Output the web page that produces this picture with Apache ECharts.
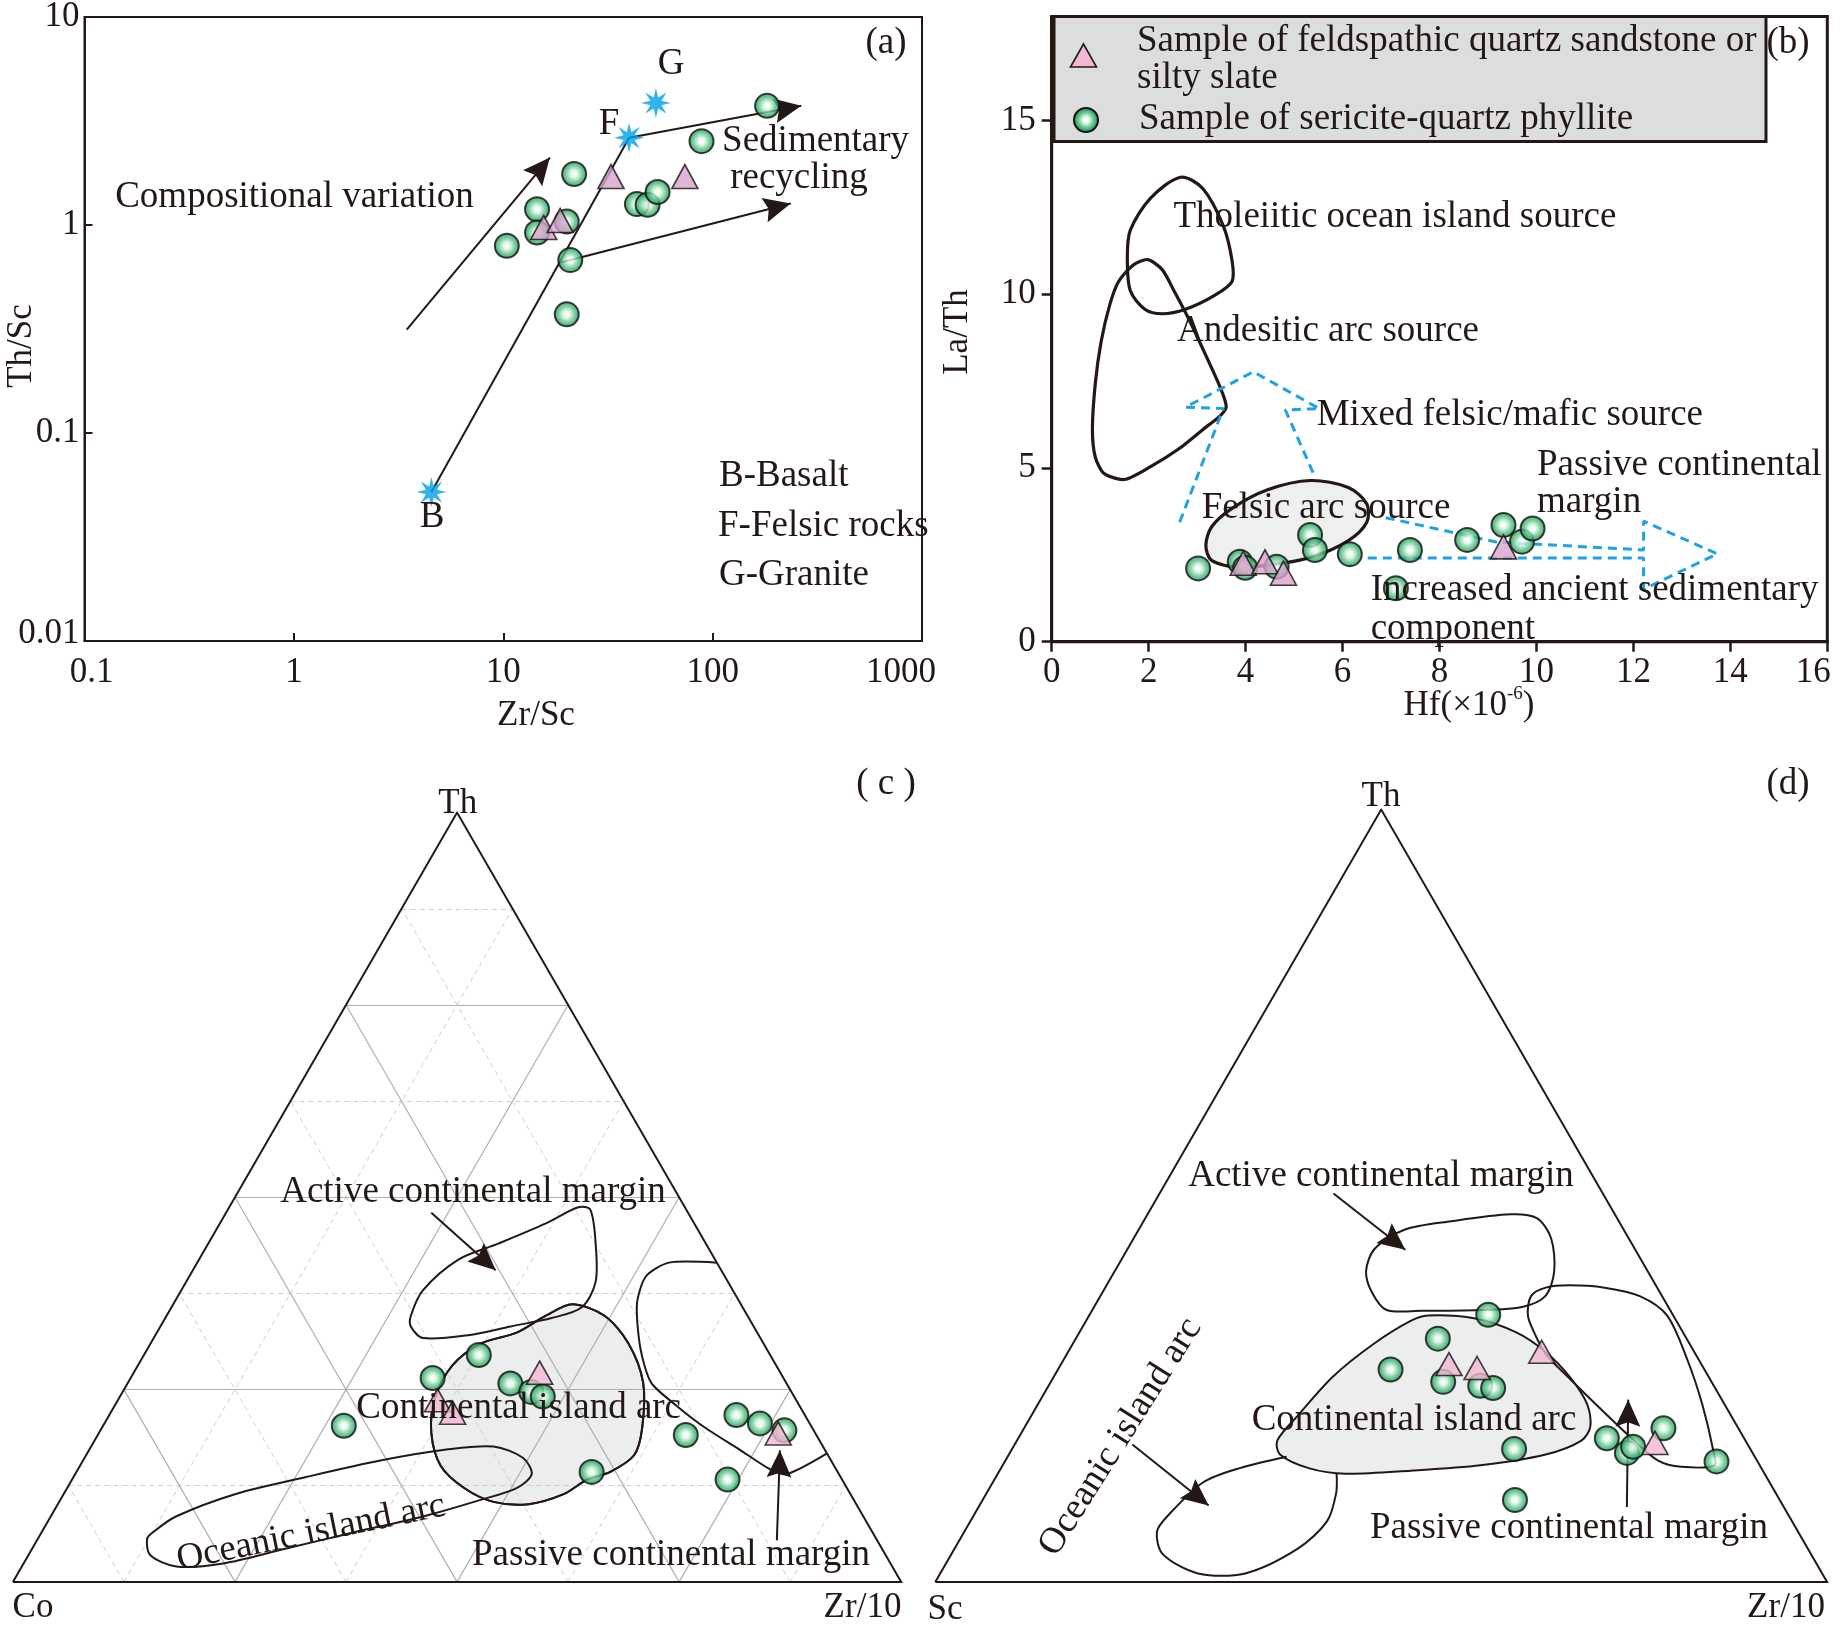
<!DOCTYPE html>
<html><head><meta charset="utf-8">
<script src="https://cdn.jsdelivr.net/npm/echarts@6/dist/echarts.min.js"></script>
<style>html,body{margin:0;padding:0;background:#fff}#c{width:1840px;height:1630px}</style>
</head><body><div id="c"></div>
<script>
// ---------------- Panel (a): Th/Sc vs Zr/Sc (log-log) ----------------
const aXTicks = [0.1, 1, 10, 100, 1000];
const aXLabels = ['0.1', '1', '10', '100', '1000'];
const aYTicks = [0.01, 0.1, 1, 10];
const aYLabels = ['0.01', '0.1', '1', '10'];
const aCircles = [[182,3.74],[88.5,2.53],[21.8,1.76],[14.5,1.19],[14.5,0.92],[10.4,0.794],[20.1,1.04],[20.9,0.678],[20.1,0.372],[43.5,1.26],[48.9,1.25],[54.6,1.44]];
const aTriangles = [[32.7,1.71],[73.7,1.71],[15.6,0.973],[18.7,1.05]];
const aStars = [[4.54,0.052],[39.9,2.63],[53.6,3.86]]; // B, F, G
const aArrows = [[[3.46,0.314],[16.7,2.11]], [[39.9,2.63],[265,3.74]], [[18.8,0.66],[236,1.27]]];
const aTrend = [[[4.54,0.052],[39.9,2.63]]];

// ---------------- Panel (b): La/Th vs Hf ----------------
const bXTicks = [0, 2, 4, 6, 8, 10, 12, 14, 16];
const bYTicks = [0, 5, 10, 15];
const bCircles = [[3.02,2.11],[3.88,2.30],[3.99,2.13],[4.64,2.16],[5.33,3.07],[5.43,2.64],[6.15,2.52],[7.39,2.64],[7.10,1.54],[8.57,2.93],[9.32,3.36],[9.70,2.88],[9.92,3.26]];
const bTriangles = [[3.95,2.26],[4.40,2.30],[4.78,1.97],[9.32,2.73]];
const bThol = [[2.66,13.37],[3.12,13.04],[3.54,11.97],[3.72,10.97],[3.72,10.37],[3.36,9.97],[2.76,9.57],[2.28,9.44],[1.92,9.57],[1.62,10.11],[1.56,11.04],[1.62,11.84],[2.04,12.77]];
const bAndes = [[1.98,11.0],[2.28,10.71],[2.52,10.11],[2.82,9.31],[3.18,8.24],[3.48,7.31],[3.60,6.77],[3.48,6.51],[3.12,6.11],[2.64,5.57],[2.04,5.04],[1.50,4.67],[1.08,4.84],[0.90,5.31],[0.84,6.11],[0.90,7.44],[1.02,8.64],[1.20,9.71],[1.38,10.37],[1.68,10.84]];
const bFelsic = [[5.34,4.64],[6.12,4.44],[6.50,3.97],[6.50,3.44],[6.12,2.91],[5.40,2.45],[4.68,2.24],[3.84,2.14],[3.30,2.34],[3.18,2.77],[3.30,3.31],[3.72,3.84],[4.44,4.37]];
const bMixed = [[2.64,3.44],[3.54,6.71],[2.76,6.75],[4.16,7.77],[5.52,6.71],[4.82,6.67],[5.40,4.84]];
const bPassive = [[6.89,3.57],[9.17,2.87],[12.21,2.64],[12.21,3.47],[13.73,2.53],[12.21,1.51],[12.21,2.41],[6.41,2.41]];

// ---------------- Panel (c): Th - Co - Zr/10 ternary ([Th, Co, Zr/10] %) ----------------
const cCircles = [[29.5,32.8,37.7],[26.5,39.5,34.0],[25.8,31.1,43.1],[24.7,29.3,46.0],[24.1,28.3,47.6],[14.3,27.7,58.0],[19.1,14.7,66.2],[21.7,7.7,70.6],[20.6,5.6,73.8],[19.7,3.3,77.0],[13.3,12.9,73.8],[20.3,52.6,27.1]];
const cTriangles = [[27.2,27.1,45.7],[23.6,40.4,36.0],[22.0,39.5,38.5],[19.3,4.2,76.5]];
// field outlines as [Th, Zr/10] % (third component = remainder)
const cActive = [[34.6,27.5],[37.9,27.2],[41.9,29.2],[44.0,32.7],[46.6,36.7],[48.7,39.3],[48.4,40.8],[44.0,43.6],[39.0,46.1],[35.7,46.2],[34.3,43.5],[33.2,39.4],[32.1,35.4],[31.7,30.3],[33.2,28.2]];
const cContArc = [[36.1,44.9],[34.6,49.3],[31.0,53.8],[25.9,58.0],[20.1,60.8],[16.5,61.7],[14.3,60.1],[13.3,58.0],[11.4,56.3],[10.1,53.0],[10.4,48.9],[12.2,44.7],[15.1,40.6],[19.4,37.4],[23.8,35.6],[28.1,35.4],[31.0,37.2],[32.4,40.5],[34.6,42.7]];
const cOceanic = [[6.4,12.5],[8.5,14.1],[11.4,19.3],[13.6,26.1],[15.8,33.6],[17.2,40.2],[17.6,45.3],[16.1,49.4],[14.0,51.4],[12.2,50.6],[10.7,47.4],[8.5,41.9],[6.4,35.0],[4.2,28.2],[2.4,22.5],[2.0,17.4],[3.5,13.7],[5.6,12.3]];
const cPassive = [[41.5,58.5],[41.5,53.1],[39.7,51.4],[36.1,52.2],[30.3,55.5],[25.9,58.9],[23.0,63.1],[20.1,67.8],[17.2,73.2],[14.7,77.8],[14.0,80.1],[16.7,83.3]];
const cArrows = [[[48.0,23.1],[40.5,34.1]], [[5.4,83.3],[17.1,77.8]]];
const cGridSteps = [12.5, 25, 37.5, 50, 62.5, 75, 87.5];

// ---------------- Panel (d): Th - Sc - Zr/10 ternary ([Th, Sc, Zr/10] %) ----------------
const dCircles = [[34.6,20.7,44.7],[31.5,27.9,40.6],[25.9,30.1,44.0],[25.4,26.2,48.4],[25.1,24.9,50.0],[17.2,26.5,56.3],[10.6,29.7,59.7],[18.6,15.4,66.0],[16.7,14.1,69.2],[17.5,13.0,69.5],[19.9,8.4,71.7],[15.6,4.6,79.8],[27.5,35.2,37.3]];
const dTriangles = [[28.2,28.3,43.5],[27.7,25.4,46.9],[29.8,17.1,53.1],[18.0,10.3,71.7]];
const dActive = [[43.1,27.7],[45.6,29.8],[46.7,34.5],[47.6,40.7],[47.1,43.9],[44.5,46.8],[40.2,49.3],[37.0,49.9],[35.6,48.0],[35.2,43.6],[35.1,37.0],[35.2,33.0],[37.4,30.3],[40.2,28.2]];
const dContArc = [[34.5,38.0],[34.1,43.5],[32.3,49.0],[29.8,53.5],[26.6,57.8],[23.0,61.6],[20.1,63.4],[18.3,63.3],[16.5,60.2],[15.1,53.6],[14.4,46.1],[14.0,39.0],[14.7,34.6],[16.5,30.4],[18.3,29.2],[21.6,29.9],[26.6,31.3],[30.9,33.8],[33.8,36.4]];
const dOceanic = [[16.2,31.3],[14.7,26.7],[12.9,23.6],[8.6,21.8],[6.5,21.6],[3.6,23.7],[1.1,28.9],[1.1,34.2],[4.3,38.5],[7.9,40.0],[11.5,39.2],[14.0,38.0]];
const dPassive = [[29.5,53.7],[32.3,51.0],[34.5,49.2],[37.0,48.3],[38.1,49.4],[38.4,51.9],[38.1,56.0],[37.0,60.5],[34.5,64.8],[28.7,70.0],[23.0,74.5],[17.2,78.6],[15.1,79.8],[14.9,76.2],[15.7,73.2],[18.3,69.2],[21.9,64.1],[26.3,58.0]];
const dArrows = [[[50.3,19.5],[43.0,31.2]], [[17.8,13.2],[9.9,25.7]], [[9.7,72.7],[23.6,65.9]]];

// ---------------- helpers ----------------
const FONT = '"Liberation Serif","Times New Roman",serif';
const INK = '#231815';
const H = Math.sqrt(3) / 2;
const tern = (th, zr) => [(zr + th / 2) / 100, th / 100 * H];
const tern3 = p => { const s = p[0] + p[1] + p[2]; return [(p[2] + p[0] / 2) / s, p[0] / s * H]; };

const circleFill = {type:'radial', x:0.5, y:0.5, r:0.5, colorStops:[
  {offset:0, color:'#ffffff'}, {offset:0.25, color:'#e3f6ea'}, {offset:0.65, color:'#52c182'}, {offset:1, color:'#17894b'}]};
const circleStyle = {color: circleFill, borderColor:'#111', borderWidth:2};
const triStyleAB = {color:'#d8a2ca', borderColor:'#111', borderWidth:1.6};
const triStyleCD = {color:'#f3b6d3', borderColor:'#111', borderWidth:1.6};

function starPath(n, rin) {
  let d = '';
  for (let i = 0; i < 2 * n; i++) {
    const r = i % 2 ? rin : 50, a = Math.PI * i / n - Math.PI / 2;
    d += (i ? 'L' : 'M') + (50 + r * Math.cos(a)).toFixed(2) + ' ' + (50 + r * Math.sin(a)).toFixed(2) + ' ';
  }
  return 'path://' + d + 'Z';
}
// arrowhead: tip at the centre of the symbol box
const ARROW = 'path://M0 0 M100 100 M50 50 L73 100 L50 92 L27 100 Z';

function scatter(idx, data, kind, style, size) {
  return {type:'scatter', xAxisIndex:idx, yAxisIndex:idx, data, symbol:kind, symbolSize:size,
    itemStyle:style, silent:true, z: kind === 'triangle' ? 6 : 5};
}
function arrows(idx, list, width) {
  return {type:'lines', coordinateSystem:'cartesian2d', xAxisIndex:idx, yAxisIndex:idx, silent:true, z:4,
    symbol:['none', ARROW], symbolSize:54, lineStyle:{color:INK, width:width, opacity:1, curveness:0},
    data: list.map(c => ({coords:c}))};
}
function shape(idx, pts, o) {
  o = o || {};
  return {type:'custom', xAxisIndex:idx, yAxisIndex:idx, silent:true, z: o.z || 3, data: pts,
    renderItem(params, api) {
      if (params.dataIndex !== 0) return null;
      const points = pts.map(p => api.coord(p));
      return {type: o.closed === false ? 'polyline' : 'polygon',
        shape:{points, smooth: o.smooth == null ? 0.3 : o.smooth},
        style:{fill: o.fill || 'none', stroke: INK, lineWidth: o.lw || 2}};
    }};
}
const tpts = arr => arr.map(p => tern(p[0], p[1]));
function gridSegs(even) {
  const segs = [];
  cGridSteps.forEach((f, i) => {
    if (((i + 1) % 2 === 0) !== even) return;
    segs.push({coords:[tern(f, 0), tern(f, 100 - f)]});
    segs.push({coords:[tern(0, f), tern(100 - f, f)]});
    segs.push({coords:[tern(0, 100 - f), tern(100 - f, 0)]});
  });
  return segs;
}
const logLabel = (ticks, labels) => v => {
  const i = ticks.findIndex(t => Math.abs(Math.log10(t) - Math.log10(v)) < 1e-6);
  if (i < 0) return '';
  if (i === 0) return '{mn|' + labels[i] + '}';
  if (i === ticks.length - 1) return '{mx|' + labels[i] + '}';
  return labels[i];
};
const labelBase = {fontFamily:FONT, fontSize:35, color:INK};

const TXT = (text, x, y, o) => { o = o || {}; return {type:'text', x, y, rotation:(o.rot || 0) * Math.PI / 180, z:20, silent:true,
  style:{text, font:(o.size || 37) + 'px ' + FONT, fill:INK, align:o.align || 'center', verticalAlign:'middle'}}; };

const texts = [
  // (a)
  TXT('(a)', 886, 43), TXT('G', 671, 64), TXT('F', 609, 124), TXT('B', 432, 517),
  TXT('Compositional variation', 294.5, 197), TXT('Sedimentary', 815.6, 141), TXT('recycling', 799, 178),
  TXT('B-Basalt', 719, 476, {align:'left'}), TXT('F-Felsic rocks', 718, 526, {align:'left'}), TXT('G-Granite', 719, 575, {align:'left'}),
  TXT('Zr/Sc', 536, 716, {size:35}), TXT('Th/Sc', 22, 346, {size:35, rot:90}),
  // (b)
  TXT('(b)', 1788, 43),
  TXT('Tholeiitic ocean island source', 1173.5, 217, {align:'left'}),
  TXT('Andesitic arc source', 1177, 331, {align:'left'}),
  TXT('Mixed felsic/mafic source', 1316.7, 415, {align:'left'}),
  TXT('Passive continental', 1537, 465, {align:'left'}), TXT('margin', 1537, 502, {align:'left'}),
  TXT('Felsic arc source', 1201.7, 508, {align:'left'}),
  TXT('Increased ancient sedimentary', 1370.7, 590, {align:'left'}), TXT('component', 1370.7, 629, {align:'left'}),
  TXT('La/Th', 958, 332, {size:35, rot:90}),
  {type:'text', x:1469, y:704, z:20, silent:true, style:{text:'{a|Hf(×10}{s|-6}{a|)}', align:'center', verticalAlign:'middle',
    rich:{a:{font:'35px ' + FONT, fill:INK, verticalAlign:'bottom'}, s:{font:'19px ' + FONT, fill:INK, verticalAlign:'bottom', padding:[0,0,20,0]}}}},
  TXT('Sample of feldspathic quartz sandstone or', 1137, 41.5, {align:'left'}),
  TXT('silty slate', 1137, 78, {align:'left'}),
  TXT('Sample of sericite-quartz phyllite', 1139, 119, {align:'left'}),
  // (c)
  TXT('( c )', 886, 784), TXT('Th', 457.7, 804, {size:35}), TXT('Co', 33, 1608, {size:35}), TXT('Zr/10', 862.5, 1608, {size:35}),
  TXT('Active continental margin', 473, 1192), TXT('Continental island arc', 518.7, 1408),
  TXT('Oceanic island arc', 311, 1533, {rot:11.6}), TXT('Passive continental margin', 671, 1555),
  // (d)
  TXT('(d)', 1788, 784), TXT('Th', 1381, 797, {size:35}), TXT('Sc', 945, 1610, {size:35}), TXT('Zr/10', 1786, 1608, {size:35}),
  TXT('Active continental margin', 1381, 1176), TXT('Continental island arc', 1414, 1420),
  TXT('Oceanic island arc', 1120.5, 1437, {rot:57.7}), TXT('Passive continental margin', 1569, 1528)
];

const legendGraphics = [
  {type:'rect', z:1, silent:true, shape:{x:1054, y:16.4, width:712, height:125}, style:{fill:'#dcdddd', stroke:INK, lineWidth:3}},
  {type:'polygon', z:21, silent:true, shape:{points:[[1083.5,44],[1096.5,67],[1070.5,67]]}, style:{fill:'#f3b6d3', stroke:INK, lineWidth:1.6}},
  {type:'circle', z:21, silent:true, shape:{cx:1086, cy:120, r:12}, style:{fill: new echarts.graphic.RadialGradient(0.5, 0.5, 0.5, circleFill.colorStops), stroke:'#111', lineWidth:2}}
];

const chart = echarts.init(document.getElementById('c'), null, {renderer:'canvas'});
chart.setOption({
  animation:false,
  backgroundColor:'#ffffff',
  grid:[
    {left:84.5, top:17, width:837.5, height:624, show:true, borderColor:INK, borderWidth:2, backgroundColor:'transparent', outerBoundsMode:'none', containLabel:false},
    {left:1051.7, top:16.4, width:775.6, height:625.3, show:true, borderColor:INK, borderWidth:3, backgroundColor:'transparent', outerBoundsMode:'none', containLabel:false},
    {left:12.9, top:812.6, width:888.3, height:769.3, outerBoundsMode:'none', containLabel:false},
    {left:935.3, top:809.6, width:891.8, height:772.3, outerBoundsMode:'none', containLabel:false}
  ],
  xAxis:[
    {type:'log', logBase:10, gridIndex:0, min:0.1, max:1000,
      axisLine:{show:true, onZero:false, lineStyle:{color:INK, width:2}},
      axisTick:{show:true, inside:true, length:8, lineStyle:{color:INK, width:2}, customValues:aXTicks},
      minorTick:{show:false}, splitLine:{show:false},
      axisLabel:Object.assign({}, labelBase, {margin:14, customValues:aXTicks, formatter:logLabel(aXTicks, aXLabels),
        rich:{mn:Object.assign({}, labelBase, {padding:[0,0,0,14]}), mx:Object.assign({}, labelBase, {padding:[0,42,0,0]})}})},
    {type:'value', gridIndex:1, min:0, max:16, interval:2,
      axisLine:{show:true, onZero:false, lineStyle:{color:INK, width:3}},
      axisTick:{show:true, inside:false, length:10, lineStyle:{color:INK, width:2.5}, customValues:bXTicks},
      splitLine:{show:false},
      axisLabel:Object.assign({}, labelBase, {margin:14, customValues:bXTicks,
        formatter: v => v === bXTicks[bXTicks.length - 1] ? '{mx|' + v + '}' : String(v),
        rich:{mx:Object.assign({}, labelBase, {padding:[0,28,0,0]})}})},
    {type:'value', gridIndex:2, min:0, max:1, show:false},
    {type:'value', gridIndex:3, min:0, max:1, show:false}
  ],
  yAxis:[
    {type:'log', logBase:10, gridIndex:0, min:0.01, max:10,
      axisLine:{show:true, onZero:false, lineStyle:{color:INK, width:2}},
      axisTick:{show:true, inside:true, length:8, lineStyle:{color:INK, width:2}, customValues:aYTicks},
      minorTick:{show:false}, splitLine:{show:false},
      axisLabel:Object.assign({}, labelBase, {margin:5, customValues:aYTicks, formatter:logLabel(aYTicks, aYLabels),
        rich:{mn:Object.assign({}, labelBase, {padding:[0,0,14,0]}), mx:Object.assign({}, labelBase, {padding:[0,0,0,0]})}})},
    {type:'value', gridIndex:1, min:0, max:18,
      axisLine:{show:true, onZero:false, lineStyle:{color:INK, width:3}},
      axisTick:{show:true, inside:false, length:10, lineStyle:{color:INK, width:2.5}, customValues:bYTicks},
      splitLine:{show:false},
      axisLabel:Object.assign({}, labelBase, {margin:16, customValues:bYTicks})},
    {type:'value', gridIndex:2, min:0, max:H, show:false},
    {type:'value', gridIndex:3, min:0, max:H, show:false}
  ],
  graphic: legendGraphics.concat(texts),
  series:[
    // (a)
    {type:'lines', coordinateSystem:'cartesian2d', xAxisIndex:0, yAxisIndex:0, silent:true, z:4,
      lineStyle:{color:INK, width:2, opacity:1}, data: aTrend.map(c => ({coords:c}))},
    arrows(0, aArrows, 2),
    scatter(0, aCircles, 'circle', circleStyle, 24),
    scatter(0, aTriangles, 'triangle', triStyleAB, [26, 24]),
    {type:'scatter', xAxisIndex:0, yAxisIndex:0, data:aStars, symbol:starPath(8, 20), symbolSize:30,
      itemStyle:{color:'#00a0e9'}, silent:true, z:7},
    // (b)
    shape(1, bFelsic, {fill:'#eef0ef', lw:3.2, z:2}),
    shape(1, bThol, {lw:3.2}),
    shape(1, bAndes, {lw:3.2, smooth:0.25}),
    {type:'line', xAxisIndex:1, yAxisIndex:1, data:bMixed, symbol:'none', showSymbol:false, silent:true, z:3,
      lineStyle:{color:'#1ea2e3', width:3, type:[9, 6]}},
    {type:'line', xAxisIndex:1, yAxisIndex:1, data:bPassive, symbol:'none', showSymbol:false, silent:true, z:3,
      lineStyle:{color:'#1ea2e3', width:3, type:[9, 6]}},
    scatter(1, bCircles, 'circle', circleStyle, 24),
    scatter(1, bTriangles, 'triangle', triStyleAB, [26, 24]),
    // (c)
    shape(2, tpts(cContArc), {fill:'#eceeee', lw:2, z:1}),
    {type:'lines', coordinateSystem:'cartesian2d', xAxisIndex:2, yAxisIndex:2, silent:true, z:2,
      lineStyle:{color:'#cfcfcf', width:1, type:[5, 4], opacity:1}, data:gridSegs(false)},
    {type:'lines', coordinateSystem:'cartesian2d', xAxisIndex:2, yAxisIndex:2, silent:true, z:2,
      lineStyle:{color:'#b0b0b0', width:1.2, opacity:1}, data:gridSegs(true)},
    {type:'lines', coordinateSystem:'cartesian2d', xAxisIndex:2, yAxisIndex:2, polyline:true, silent:true, z:3,
      lineStyle:{color:INK, width:2, opacity:1}, data:[{coords:[tern(0,0), tern(0,100), tern(100,0), tern(0,0)]}]},
    shape(2, tpts(cActive), {lw:2}),
    shape(2, tpts(cOceanic), {lw:2}),
    shape(2, tpts(cPassive), {lw:2, closed:false, smooth:0.25}),
    shape(2, tpts(cContArc), {lw:2, z:3}),
    arrows(2, cArrows.map(a => a.map(p => tern(p[0], p[1]))), 2),
    scatter(2, cCircles.map(tern3), 'circle', circleStyle, 24),
    scatter(2, cTriangles.map(tern3), 'triangle', triStyleCD, [26, 23]),
    // (d)
    shape(3, tpts(dContArc), {fill:'#eceeee', lw:2, z:2}),
    {type:'lines', coordinateSystem:'cartesian2d', xAxisIndex:3, yAxisIndex:3, polyline:true, silent:true, z:3,
      lineStyle:{color:INK, width:2, opacity:1}, data:[{coords:[tern(0,0), tern(0,100), tern(100,0), tern(0,0)]}]},
    shape(3, tpts(dActive), {lw:2}),
    shape(3, tpts(dOceanic), {lw:2, closed:false, smooth:0.3}),
    shape(3, tpts(dPassive), {lw:2}),
    arrows(3, dArrows.map(a => a.map(p => tern(p[0], p[1]))), 2),
    scatter(3, dCircles.map(tern3), 'circle', circleStyle, 24),
    scatter(3, dTriangles.map(tern3), 'triangle', triStyleCD, [26, 23])
  ]
});
</script></body></html>
